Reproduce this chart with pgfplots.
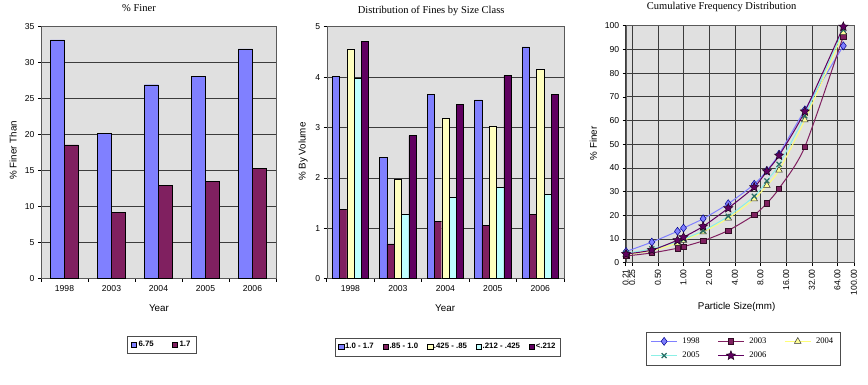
\documentclass[border=0pt]{standalone}
\usepackage{fontspec}
\setmainfont{Liberation Sans}
\newfontfamily\tnr{Liberation Serif}
\usepackage{pgfplots}
\pgfplotsset{compat=1.18}
\usetikzlibrary{plotmarks}
\definecolor{cblue}{RGB}{128,128,255}
\definecolor{cmaroon}{RGB}{128,32,96}
\definecolor{cyellow}{RGB}{255,255,190}
\definecolor{cteal}{RGB}{190,255,255}
\definecolor{cpurple}{RGB}{96,0,96}
\definecolor{bgc}{RGB}{224,224,224}
\definecolor{gridc}{RGB}{60,60,60}
\definecolor{lyellow}{RGB}{255,255,120}
\definecolor{lteal}{RGB}{140,240,230}
\definecolor{dteal}{RGB}{40,110,100}

\pgfdeclareplotmark{fstar}{%
  \pgfpathmoveto{\pgfpointpolar{90}{\pgfplotmarksize}}%
  \pgfpathlineto{\pgfpointpolar{126}{0.45\pgfplotmarksize}}%
  \pgfpathlineto{\pgfpointpolar{162}{\pgfplotmarksize}}%
  \pgfpathlineto{\pgfpointpolar{198}{0.45\pgfplotmarksize}}%
  \pgfpathlineto{\pgfpointpolar{234}{\pgfplotmarksize}}%
  \pgfpathlineto{\pgfpointpolar{270}{0.45\pgfplotmarksize}}%
  \pgfpathlineto{\pgfpointpolar{306}{\pgfplotmarksize}}%
  \pgfpathlineto{\pgfpointpolar{342}{0.45\pgfplotmarksize}}%
  \pgfpathlineto{\pgfpointpolar{18}{\pgfplotmarksize}}%
  \pgfpathlineto{\pgfpointpolar{54}{0.45\pgfplotmarksize}}%
  \pgfpathclose
  \pgfusepathqfillstroke
}

\pgfplotsset{
  excel/.style={
    scale only axis,
    anchor=south west,
    axis background/.style={fill=bgc},
    axis line style={black!65},
    tick style={black, line width=0.5pt},
    tick align=outside,
    major tick length=3pt,
    minor tick length=3pt,
    ymajorgrids,
    major grid style={gridc, line width=0.6pt},
    tick label style={font=\fontsize{8.6}{10}\selectfont},
    label style={font=\fontsize{9.8}{11}\selectfont},
    every axis title/.style={anchor=center, font=\tnr\fontsize{10.5}{12}\selectfont},
    /pgf/number format/assume math mode=true,
    xtick pos=bottom, ytick pos=left,
  },
  sqlegend/.style={
    legend image code/.code={\draw[##1,draw=black,line width=0.4pt] (0pt,-2.7pt) rectangle (5.4pt,2.7pt);},
  },
}

\pgfplotstableread{
x    a     b
0  33.1  18.56
1  20.13  9.23
2  26.9  12.95
3  28.02 13.46
4  31.86 15.33
}\finer

\pgfplotstableread{
x   s1    s2    s3    s4    s5
0  4.01  1.37  4.56  3.98  4.71
1  2.41  0.69  1.97  1.28  2.84
2  3.66  1.14  3.18  1.61  3.46
3  3.55  1.06  3.03  1.81  4.03
4  4.60  1.28  4.15  1.67  3.66
}\dist

\pgfplotstableread{
size   y98    y03    y04    y05    y06
0.212  4.71   2.84   3.46   4.03   3.66
0.425  8.69   4.12   5.07   5.84   5.33
0.85   13.25  6.09   8.25   8.87   9.48
1.0    14.62  6.78   9.39   9.93   10.76
1.7    18.56  9.23   12.95  13.46  15.33
3.35   24.9   13.6   18.8   19.6   23.0
6.75   33.1   20.13  26.9   28.02  31.86
9.5    38.9   25.1   32.6   34.5   38.6
13.2   45.8   31.3   39.0   41.5   45.2
26.5   64.5   48.9   60.2   62.0   63.8
75     91.5   95.6   97.0   98.2   99.6
}\cum

\begin{document}
\begin{tikzpicture}
\useasboundingbox[fill=white] (0pt,0pt) rectangle (868pt,385pt);

% ---------- Chart 1 ----------
\begin{axis}[excel,
  at={(41pt,106.3pt)}, width=235pt, height=252.4pt,
  ybar=0pt, bar width=14pt,
  xmin=-0.5, xmax=4.5, ymin=0, ymax=35, ytick={0,5,...,35},
  xtick={0,...,4}, xticklabels={1998,2003,2004,2005,2006},
  major x tick style={draw=none},
  minor xtick={-0.5,0.5,...,4.5},
  title={\% Finer},
  title style={at={(axis description cs:0.417,1.071)}},
  xlabel={Year},
  xlabel style={at={(axis description cs:0.502,-0.116)}, anchor=center},
  ylabel={\% Finer Than},
  ylabel style={at={(axis description cs:-0.119,0.509)}, anchor=center},
  sqlegend,
  legend columns=2,
  legend style={at={(axis description cs:0.513,-0.262)}, anchor=center,
    draw=black!70, fill=white, inner xsep=4pt, inner ysep=3pt,
    font=\bfseries\fontsize{7.8}{9}\selectfont,
    /tikz/every even column/.append style={column sep=16pt}},
]
\addplot[fill=cblue, draw=black, line width=0.4pt] table[x=x,y=a] {\finer};
\addplot[fill=cmaroon, draw=black, line width=0.4pt] table[x=x,y=b] {\finer};
\legend{6.75,1.7}
\end{axis}

% ---------- Chart 2 ----------
\begin{axis}[excel,
  at={(326.7pt,106.3pt)}, width=237.3pt, height=252pt,
  ybar=0pt, bar width=7.3pt,
  xmin=-0.5, xmax=4.5, ymin=0, ymax=5, ytick={0,1,...,5},
  xtick={0,...,4}, xticklabels={1998,2003,2004,2005,2006},
  major x tick style={draw=none},
  minor xtick={-0.5,0.5,...,4.5},
  title={Distribution of Fines by Size Class},
  title style={at={(axis description cs:0.44,1.062)}},
  xlabel={Year},
  xlabel style={at={(axis description cs:0.499,-0.116)}, anchor=center},
  ylabel={\% By Volume},
  ylabel style={at={(axis description cs:-0.099,0.504)}, anchor=center},
  sqlegend,
  legend columns=5,
  legend style={at={(axis description cs:0.511,-0.271)}, anchor=center,
    draw=black!70, fill=white, inner xsep=3pt, inner ysep=3.5pt,
    font=\bfseries\fontsize{7.8}{9}\selectfont,
    /tikz/every odd column/.append style={column sep=-1pt},
    /tikz/every even column/.append style={column sep=7pt}},
]
\addplot[fill=cblue, draw=black, line width=0.4pt] table[x=x,y=s1] {\dist};
\addplot[fill=cmaroon, draw=black, line width=0.4pt] table[x=x,y=s2] {\dist};
\addplot[fill=cyellow, draw=black, line width=0.4pt] table[x=x,y=s3] {\dist};
\addplot[fill=cteal, draw=black, line width=0.4pt] table[x=x,y=s4] {\dist};
\addplot[fill=cpurple, draw=black, line width=0.4pt] table[x=x,y=s5] {\dist};
\legend{1.0 - 1.7,.85 - 1.0,.425 - .85,.212 - .425,<.212}
\end{axis}

% ---------- Chart 3 ----------
\begin{axis}[excel,
  at={(625.7pt,122.3pt)}, width=228.3pt, height=237pt,
  xmode=log, xmin=0.21, xmax=100, ymin=0, ymax=100,
  ytick={0,10,...,100},
  xtick={0.21,0.25,0.5,1,2,4,8,16,32,64,100},
  xticklabels={0.21,0.25,0.50,1.00,2.00,4.00,8.00,16.00,32.00,64.00,100.00},
  xticklabel style={rotate=90, anchor=east},
  xmajorgrids,
  title={Cumulative Frequency Distribution},
  title style={at={(axis description cs:0.42,1.078)}},
  xlabel={Particle Size(mm)},
  xlabel style={at={(axis description cs:0.486,-0.188)}, anchor=center},
  ylabel={\% Finer},
  ylabel style={at={(axis description cs:-0.142,0.504)}, anchor=center},
  legend columns=3,
  legend image code/.code={\draw[mark repeat=2,mark phase=2,#1] plot coordinates {(0cm,0cm) (0.45cm,0cm) (0.9cm,0cm)};},
  legend style={at={(axis description cs:0.514,-0.362)}, anchor=center,
    draw=black!70, fill=white, inner xsep=5pt, inner ysep=4pt,
    font=\tnr\fontsize{8.6}{10}\selectfont, row sep=3pt,
    /tikz/every odd column/.append style={column sep=3pt},
    /tikz/every even column/.append style={column sep=16pt}},
  every axis plot/.append style={smooth, tension=0.45, line width=1pt},
]
\addplot[color=cblue, mark=diamond*, mark size=4pt,
  mark options={fill=cblue, draw=blue!55!black, line width=0.5pt}]
  table[x=size,y=y98] {\cum};
\addplot[color=cmaroon, mark=square*, mark size=2.7pt,
  mark options={fill=cmaroon, draw=black!60!cmaroon, line width=0.5pt}]
  table[x=size,y=y03] {\cum};
\addplot[color=lyellow, mark=triangle*, mark size=3.8pt,
  mark options={fill=cyellow!80!yellow, draw=black!80, line width=0.5pt}]
  table[x=size,y=y04] {\cum};
\addplot[color=lteal, mark=x, mark size=3.5pt,
  mark options={draw=dteal, line width=1.2pt}]
  table[x=size,y=y05] {\cum};
\addplot[color=cpurple, mark=fstar, mark size=4.8pt,
  mark options={fill=cpurple, draw=black!70!cpurple, line width=0.5pt}]
  table[x=size,y=y06] {\cum};
\legend{1998,2003,2004,2005,2006}
\end{axis}
\end{tikzpicture}
\end{document}
